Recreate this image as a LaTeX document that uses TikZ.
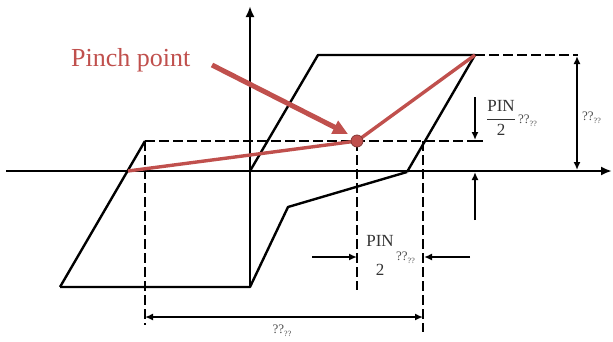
\documentclass[tikz,border=0pt]{standalone}
\usepackage{fontspec}
\setmainfont{Liberation Serif}
\usetikzlibrary{arrows.meta}
\definecolor{pinred}{RGB}{192,80,77}
\newcommand{\qqsub}{??\raisebox{-3pt}{\fontsize{8}{8}\selectfont ??}}
\begin{document}
\begin{tikzpicture}[x=1pt,y=-1pt,
  line/.style={line width=2.4pt},
  dline/.style={line width=2.4pt, dash pattern=on 10pt off 4pt},
  tipend/.style={-{Latex[length=8pt,width=7pt]}},
  tipboth/.style={{Latex[length=8pt,width=7pt]}-{Latex[length=8pt,width=7pt]}},
  lbl/.style={font=\fontsize{17}{19}\selectfont, inner sep=0pt, text=black!80},
  qq/.style={font=\fontsize{13}{13}\selectfont, inner sep=0pt, text=black!70}
]
\useasboundingbox (0,0) rectangle (613,341);
% key points
\coordinate (xl) at (6,171);   \coordinate (xr) at (612,171);
\coordinate (yb) at (250,287); \coordinate (yt) at (250,6);
\coordinate (A) at (60,287);   \coordinate (H) at (145,141);
\coordinate (C) at (288,207);  \coordinate (D) at (407,172);
\coordinate (E) at (475,55);   \coordinate (F) at (318,55);
\coordinate (G) at (250,171);  \coordinate (K) at (475,141);
\coordinate (R) at (423,141);  \coordinate (L) at (128,171);
\coordinate (T) at (578,55);
\coordinate (Hb) at (145,325); \coordinate (Rb) at (423,332);
\coordinate (Pb) at (357,290);
% axes
\draw[line, -{Latex[length=11pt,width=9pt]}] (xl) -- (xr);
\draw[line, -{Latex[length=11pt,width=9pt]}] (yb) -- (yt);
% loop
\draw[line, line join=round] (A) -- (yb) -- (C) -- (D);
\draw[line] (A) -- (H);
\draw[line, line join=round] (G) -- (F) -- (E) -- (D);
% dashed lines
\draw[dline] (H) -- (K);
\draw[dline] (E) -- (T);
\draw[dline] (H) -- (Hb);
\draw[dline] (R) -- (Rb);
% pinch point
\coordinate (P) at (357,141);
\draw[dline] (P) -- (Pb);
\draw[pinred, line width=3.4pt, line join=round] (L) -- (P) -- (E);
\node[circle, fill=pinred, draw=pinred!70!black, line width=0.8pt, minimum size=12pt, inner sep=0pt] (PP) at (P) {};
% pinch label and arrow
\node[anchor=west, inner sep=0pt, text=pinred, font=\fontsize{26}{26}\selectfont] (lab) at (71,60) {Pinch point};
\coordinate (pa) at (212,65);
\coordinate (pt) at (348,134);
\draw[pinred, line width=5pt, -{Triangle[length=15pt,width=14pt]}] (pa) -- (pt);
% right dimension
\coordinate (d1) at (577,56); \coordinate (d2) at (577,170);
\draw[line, tipboth] (d1) -- (d2);
\node[qq, anchor=west] (l1) at (582,118) {\qqsub};
% PIN/2 right
\coordinate (e1) at (475,97); \coordinate (e2) at (475,140);
\coordinate (e3) at (475,220); \coordinate (e4) at (475,172);
\coordinate (b1) at (468,141); \coordinate (b2) at (483,141);
\draw[line, tipend] (e1) -- (e2);
\draw[line] (b1) -- (b2);
\draw[line, tipend] (e3) -- (e4);
\node[lbl] (f1) at (501,118) {$\displaystyle\frac{\textrm{PIN}}{\textrm{2}}$};
\node[qq, anchor=west] (l2) at (518,121) {\qqsub};
% PIN/2 bottom
\coordinate (g1) at (312,257); \coordinate (g2) at (357,257);
\coordinate (g3) at (470,257); \coordinate (g4) at (424,257);
\draw[line, tipend] (g1) -- (g2);
\draw[line, tipend] (g3) -- (g4);
\node[lbl] (p1) at (380,241) {PIN};
\node[lbl] (p2) at (380,270) {2};
\node[qq, anchor=west] (l3) at (396,258) {\qqsub};
% bottom total
\coordinate (h1) at (145,317); \coordinate (h2) at (423,317);
\draw[line, tipboth] (h1) -- (h2);
\node[qq] (l4) at (282,331) {\qqsub};
\end{tikzpicture}
\end{document}
